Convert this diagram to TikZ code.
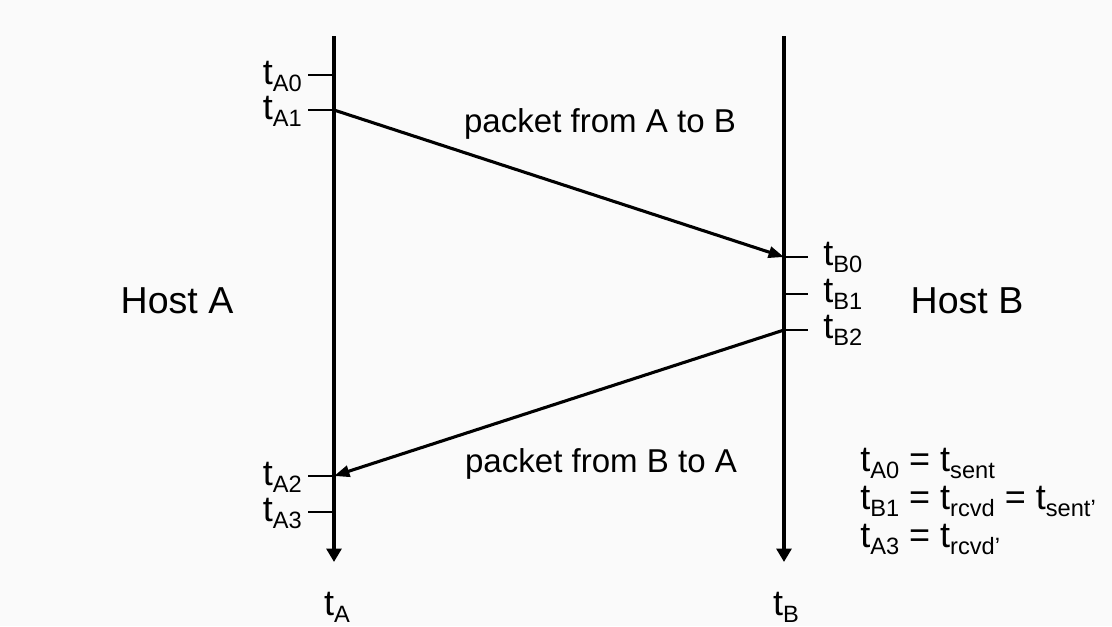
\documentclass[tikz,border=0pt]{standalone}
\usepackage{fontspec}
\setmainfont{Liberation Sans}
\usetikzlibrary{arrows.meta}
\definecolor{bgcol}{RGB}{250,250,250}
\newcommand{\tsb}[1]{t\raisebox{-5pt}{\fontsize{16.8pt}{18pt}\selectfont #1}}

\begin{document}
\begin{tikzpicture}[x=0.025cm, y=-0.025cm,
  axis/.style={line width=2.4pt, -{Triangle[length=9.5pt,width=10.5pt]}},
  tickline/.style={line width=1.1pt},
  packet/.style={line width=2.2pt, -{Triangle[length=11pt,width=8pt]}},
  lbl/.style={inner sep=0pt, font=\fontsize{25.6pt}{28pt}\selectfont},
  txt/.style={inner sep=0pt, font=\fontsize{23.5pt}{26pt}\selectfont},
  host/.style={inner sep=0pt, font=\fontsize{26.7pt}{30pt}\selectfont}]
\fill[bgcol] (0,0) rectangle (1112,626);
\useasboundingbox (0,0) rectangle (1112,626);
% time lines
\coordinate (atop) at (334,36);  \coordinate (abot) at (334,562);
\coordinate (btop) at (784,36);  \coordinate (bbot) at (784,562);
\draw[axis] (atop) -- (abot);
\draw[axis] (btop) -- (bbot);
% instants on host A
\coordinate (a0) at (334,75);  \coordinate (a0e) at (308,75);
\coordinate (a1) at (334,110); \coordinate (a1e) at (308,110);
\coordinate (a2) at (334,476); \coordinate (a2e) at (308,476);
\coordinate (a3) at (334,512); \coordinate (a3e) at (308,512);
\foreach \p in {a0,a1,a2,a3} \draw[tickline] (\p) -- (\p e);
% instants on host B
\coordinate (b0) at (784,257); \coordinate (b0e) at (808,257);
\coordinate (b1) at (784,294); \coordinate (b1e) at (808,294);
\coordinate (b2) at (784,330); \coordinate (b2e) at (808,330);
\foreach \p in {b0,b1,b2} \draw[tickline] (\p) -- (\p e);
% labels
\node[lbl, anchor=base east] (la0) at (302,84)  {\tsb{A0}};
\node[lbl, anchor=base east] (la1) at (302,119) {\tsb{A1}};
\node[lbl, anchor=base east] (la2) at (302,485) {\tsb{A2}};
\node[lbl, anchor=base east] (la3) at (302,521) {\tsb{A3}};
\node[lbl, anchor=base west] (lb0) at (823,265) {\tsb{B0}};
\node[lbl, anchor=base west] (lb1) at (823,302) {\tsb{B1}};
\node[lbl, anchor=base west] (lb2) at (823,338) {\tsb{B2}};
% packets
\draw[packet] (a1) -- (b0);
\draw[packet] (b2) -- (a2);
\node[txt, anchor=base] (pab) at (600,132) {packet from A to B};
\node[txt, anchor=base] (pba) at (601,472) {packet from B to A};
\node[host, anchor=base] (hosta) at (177,313) {Host A};
\node[host, anchor=base] (hostb) at (967,313) {Host B};
\node[lbl, anchor=base] (ta) at (337,615) {\tsb{A}};
\node[lbl, anchor=base] (tb) at (786,615) {\tsb{B}};
% relations
\node[lbl, anchor=base west] (eqa) at (860,471) {\tsb{A0} = \tsb{sent}};
\node[lbl, anchor=base west] (eqb) at (860,509) {\tsb{B1} = \tsb{rcvd} = \tsb{sent’}};
\node[lbl, anchor=base west] (eqc) at (860,547) {\tsb{A3} = \tsb{rcvd’}};
\end{tikzpicture}
\end{document}
